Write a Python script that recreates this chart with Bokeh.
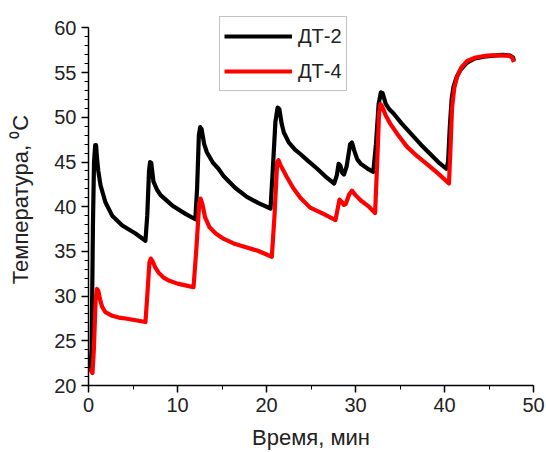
from bokeh.plotting import figure
from bokeh.models import SingleIntervalTicker, Legend, LegendItem, Range1d
from bokeh.embed import file_html
from bokeh.resources import INLINE

# ДТ-2 (black)
t_dt2 = [0.2, 0.35, 0.5, 0.62, 0.75, 0.85, 0.95,
         1.1, 1.35, 1.9, 2.66, 3.8, 5.28, 6.4,
         6.6, 6.8, 6.92, 7.05, 7.3, 7.7, 8.1, 9.4, 10.9, 12.0,
         12.2, 12.4, 12.55, 12.7, 13.0, 13.3, 14.0, 14.6, 15.2, 16.5, 17.8, 19.1, 20.45,
         20.7, 21.0, 21.25, 21.45, 21.7, 21.95, 22.5, 23.2, 23.8, 24.7, 25.7, 26.6, 27.6,
         27.9, 28.1, 28.3, 28.5, 28.7, 29.0, 29.4, 29.6, 29.85, 30.2, 30.6, 31.3, 32.0,
         32.3, 32.6, 32.85, 33.05, 33.4, 33.8, 34.3, 35.2, 36.2, 37.3, 38.4, 39.3, 40.2,
         40.4, 40.6, 40.8, 41.0, 41.4, 41.8, 42.5, 43.3, 44.4, 45.5, 46.6, 47.4, 47.7, 47.8]
v_dt2 = [21.7, 24.0, 38.0, 45.0, 46.9, 46.9, 45.5,
         44.0, 42.4, 40.5, 39.0, 37.9, 37.0, 36.2,
         39.0, 44.0, 45.0, 44.9, 42.8, 41.9, 41.3, 40.15, 39.2, 38.6,
         42.0, 48.0, 48.9, 48.7, 47.0, 46.1, 44.9, 44.25, 43.4, 42.1, 41.1, 40.4, 39.8,
         44.0, 49.5, 51.1, 50.9, 49.3, 48.3, 47.2, 46.4, 45.9, 45.1, 44.25, 43.4, 42.6,
         43.5, 44.8, 44.6, 43.8, 43.6, 44.5, 47.0, 47.2, 46.3, 45.3, 44.8, 44.3, 43.9,
         47.0, 51.5, 52.8, 52.7, 51.5, 50.9, 50.4, 49.3, 48.2, 47.0, 45.9, 45.0, 44.25,
         45.0, 49.0, 52.0, 53.4, 54.6, 55.3, 56.1, 56.55, 56.8, 56.9, 57.0, 56.9, 56.7, 56.3]

# ДТ-4 (red)
t_dt4 = [0.1, 0.45, 0.6, 0.8, 0.95, 1.1, 1.3, 1.54, 1.9, 2.66, 3.4, 4.16, 5.3, 6.4,
         6.6, 6.85, 7.0, 7.2, 7.5, 7.9, 8.4, 9.0, 10.0, 10.9, 11.8,
         12.1, 12.45, 12.6, 12.8, 13.1, 13.6, 14.3, 15.2, 16.3, 17.6, 18.95, 20.6,
         20.9, 21.2, 21.35, 21.6, 22.3, 23.0, 23.8, 24.9, 26.4, 27.75,
         27.95, 28.2, 28.4, 28.7, 28.9, 29.3, 29.6, 30.0, 30.6, 31.4, 32.2,
         32.4, 32.65, 32.8, 33.0, 33.4, 33.9, 34.8, 35.8, 37.0, 38.0, 39.3, 40.5,
         40.65, 40.85, 41.1, 41.4, 41.9, 42.55, 43.5, 44.8, 46.0, 47.2, 47.6, 47.8]
v_dt4 = [21.9, 21.4, 24.0, 29.5, 30.8, 30.6, 29.6, 28.8, 28.2, 27.8, 27.6, 27.5, 27.3, 27.1,
         30.0, 33.8, 34.2, 33.9, 33.2, 32.6, 32.1, 31.75, 31.4, 31.2, 31.0,
         35.0, 40.5, 40.9, 40.3, 38.8, 37.7, 37.0, 36.4, 35.9, 35.5, 35.1, 34.4,
         39.0, 45.0, 45.2, 44.6, 43.3, 42.1, 41.0, 39.9, 39.2, 38.5,
         39.5, 40.8, 40.6, 40.2, 40.3, 41.4, 41.8, 41.3, 40.7, 40.1, 39.3,
         44.0, 50.5, 51.5, 51.2, 50.2, 49.3, 48.0, 46.7, 45.6, 44.8, 43.7, 42.6,
         46.0, 51.1, 53.3, 54.5, 55.6, 56.3, 56.7, 56.9, 56.95, 56.9, 56.7, 56.2]

x_ticks = [0, 10, 20, 30, 40, 50]
y_ticks = [20, 25, 30, 35, 40, 45, 50, 55, 60]

FONT = "Liberation Sans"

# frame top a bit above 60 so the legend box (which rises above 60) is not clipped
p = figure(width=546, height=452, output_backend="svg", toolbar_location=None,
           x_range=Range1d(0, 50), y_range=Range1d(20, 61.62),
           min_border_left=88, min_border_right=13, min_border_top=13, min_border_bottom=67)
p.outline_line_color = None
p.xgrid.visible = False
p.ygrid.visible = False

r1 = p.line(t_dt2, v_dt2, line_color="black", line_width=4.2, line_join="round")
r2 = p.line(t_dt4, v_dt4, line_color="#ff0000", line_width=4.2, line_join="round")

p.xaxis.ticker = SingleIntervalTicker(interval=10, num_minor_ticks=2)
p.yaxis.ticker = SingleIntervalTicker(interval=5, num_minor_ticks=5)
p.yaxis.bounds = (y_ticks[0], y_ticks[-1])
p.xaxis.bounds = (x_ticks[0], x_ticks[-1])
for ax in (p.xaxis, p.yaxis):
    ax.axis_line_color = "black"
    ax.axis_line_width = 1.5
    ax.major_tick_line_color = "black"
    ax.major_tick_line_width = 1.5
    ax.minor_tick_line_color = "black"
    ax.major_tick_out = 7
    ax.major_tick_in = 0
    ax.minor_tick_out = 4
    ax.minor_tick_in = 0
    ax.major_label_text_font = FONT
    ax.major_label_text_font_size = "20px"
    ax.major_label_text_color = "#222222"
    ax.axis_label_text_font = FONT
    ax.axis_label_text_font_size = "22px"
    ax.axis_label_text_font_style = "normal"
    ax.axis_label_text_color = "#222222"

p.xaxis.axis_label = "Время, мин"
p.yaxis.axis_label = "Температура, \u2070C"
p.xaxis.major_label_standoff = 5
p.yaxis.major_label_standoff = 5
p.xaxis.axis_label_standoff = 10
p.yaxis.axis_label_standoff = 18

legend = Legend(items=[LegendItem(label="ДТ-2", renderers=[r1]),
                       LegendItem(label="ДТ-4", renderers=[r2])],
                location=(131, 294))
legend.label_text_font = FONT
legend.label_text_font_size = "20px"
legend.label_text_color = "#222222"
legend.glyph_width = 68
legend.glyph_height = 30
legend.label_height = 30
legend.label_standoff = 6
legend.spacing = 5
legend.padding = 4
legend.margin = 0
legend.border_line_color = "#888888"
legend.border_line_width = 1.5
legend.background_fill_alpha = 1
p.add_layout(legend, "center")

open("out.html", "w").write(file_html(p, INLINE))
